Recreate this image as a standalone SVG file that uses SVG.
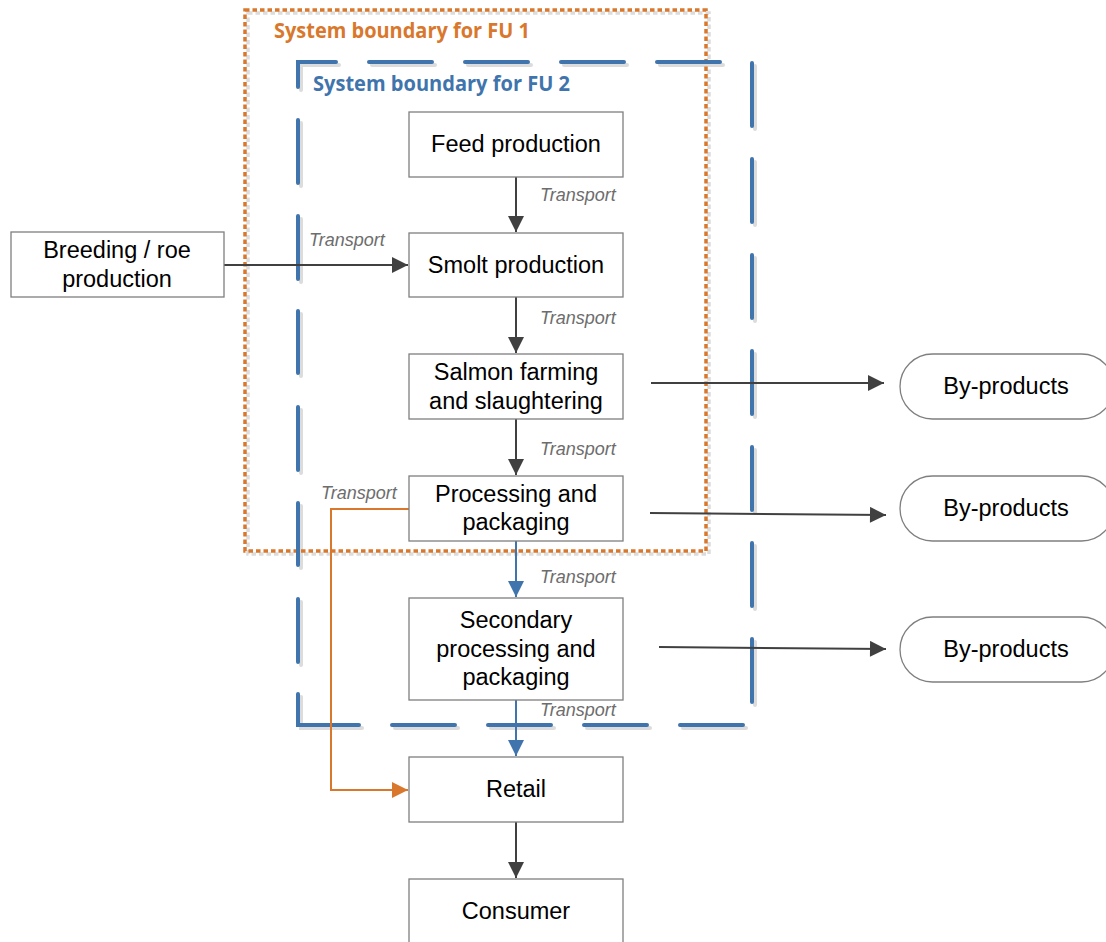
<svg xmlns="http://www.w3.org/2000/svg" xmlns:xlink="http://www.w3.org/1999/xlink" width="1106" height="942" viewBox="0 0 1106 942">
<defs>
<marker id="ah-dark" viewBox="0 0 10 10" refX="10" refY="5" markerWidth="8.5" markerHeight="8" markerUnits="strokeWidth" orient="auto"><path d="M0,0 L10,5 L0,10 z" fill="#404040"/></marker>
<marker id="ah-blue" viewBox="0 0 10 10" refX="10" refY="5" markerWidth="8.5" markerHeight="8" markerUnits="strokeWidth" orient="auto"><path d="M0,0 L10,5 L0,10 z" fill="#3f74ad"/></marker>
<marker id="ah-orange" viewBox="0 0 10 10" refX="10" refY="5" markerWidth="8.5" markerHeight="8" markerUnits="strokeWidth" orient="auto"><path d="M0,0 L10,5 L0,10 z" fill="#d9782d"/></marker>
<path id="fu2" d="M298,87 V62 H336 M369,62 H432 M465,62 H528 M561,62 H624 M657,62 H720
 M752,63 V126 M752,159 V222 M752,255 V318 M752,351 V414 M752,447 V510 M752,543 V606 M752,639 V702
 M743,725 H680 M647,725 H584 M551,725 H488 M455,725 H392 M359,725 H298 V694
 M298,662 V599 M298,565 V503 M298,470 V407 M298,373 V311 M298,279 V216 M298,183 V120"/>
<rect id="fu1" x="245" y="10" width="461" height="541"/>
<style>
.box{fill:#fff;stroke:#7f7f7f;stroke-width:1.3}
.lbl{font-family:"Liberation Sans",Arial,sans-serif;font-size:23.5px;fill:#000;text-anchor:middle}
.tr{font-family:"Liberation Sans",Arial,sans-serif;font-size:18px;font-style:italic;fill:#6d6d6d}
.dk{fill:none;stroke:#404040;stroke-width:2;marker-end:url(#ah-dark)}
.bl{fill:none;stroke:#3f74ad;stroke-width:2;marker-end:url(#ah-blue)}
.or{fill:none;stroke:#d9782d;stroke-width:2;marker-end:url(#ah-orange)}
.ttl{font-family:"Open Sans","Liberation Sans",sans-serif;font-weight:bold;font-size:21px}
.b1{fill:none;stroke-width:3.5;stroke-dasharray:4.5 3}
.b2{fill:none;stroke-width:4;stroke-linecap:round;stroke-linejoin:miter}
</style>
</defs>
<rect width="1106" height="942" fill="#fff"/>

<g id="boundaries">
<use xlink:href="#fu1" class="b1" stroke="#dcdcdc" transform="translate(3,3)"/>
<use xlink:href="#fu2" class="b2" stroke="#dcdcdc" transform="translate(3,3)"/>
<use xlink:href="#fu1" class="b1" stroke="#d9782d"/>
<use xlink:href="#fu2" class="b2" stroke="#3f74ad"/>
<text class="ttl" x="274" y="38" fill="#d9782d" textLength="256" lengthAdjust="spacingAndGlyphs">System boundary for FU 1</text>
<text class="ttl" x="313" y="91" fill="#3f74ad" textLength="257" lengthAdjust="spacingAndGlyphs">System boundary for FU 2</text>
</g>

<g id="connectors">
<line class="dk" x1="516" y1="177" x2="516" y2="232"/>
<line class="dk" x1="224" y1="265" x2="408" y2="265"/>
<line class="dk" x1="516" y1="297" x2="516" y2="353"/>
<line class="dk" x1="516" y1="419" x2="516" y2="475"/>
<line class="bl" x1="516" y1="541" x2="516" y2="597"/>
<line class="bl" x1="516" y1="700" x2="516" y2="756"/>
<line class="dk" x1="516" y1="822" x2="516" y2="878"/>
<polyline class="or" points="409,509 331,509 331,790 408,790"/>
<line class="dk" x1="651" y1="383" x2="884" y2="383"/>
<line class="dk" x1="650" y1="513" x2="886" y2="515"/>
<line class="dk" x1="659" y1="647" x2="886" y2="649"/>
<text class="tr" x="540" y="201">Transport</text>
<text class="tr" x="309" y="246">Transport</text>
<text class="tr" x="540" y="324">Transport</text>
<text class="tr" x="540" y="455">Transport</text>
<text class="tr" x="321" y="499">Transport</text>
<text class="tr" x="540" y="583">Transport</text>
<text class="tr" x="540" y="716">Transport</text>
</g>

<g id="feed"><rect class="box" x="409" y="112" width="214" height="65"/><text class="lbl" x="516" y="152">Feed production</text></g>
<g id="breeding"><rect class="box" x="11" y="232" width="213" height="65"/><text class="lbl" x="117" y="258">Breeding / roe</text><text class="lbl" x="117" y="287">production</text></g>
<g id="smolt"><rect class="box" x="409" y="233" width="214" height="64"/><text class="lbl" x="516" y="273">Smolt production</text></g>
<g id="salmon"><rect class="box" x="409" y="354" width="214" height="65"/><text class="lbl" x="516" y="380">Salmon farming</text><text class="lbl" x="516" y="409">and slaughtering</text></g>
<g id="processing"><rect class="box" x="409" y="476" width="214" height="65"/><text class="lbl" x="516" y="502">Processing and</text><text class="lbl" x="516" y="530">packaging</text></g>
<g id="secondary"><rect class="box" x="409" y="598" width="214" height="102"/><text class="lbl" x="516" y="628">Secondary</text><text class="lbl" x="516" y="657">processing and</text><text class="lbl" x="516" y="685">packaging</text></g>
<g id="retail"><rect class="box" x="409" y="757" width="214" height="65"/><text class="lbl" x="516" y="797">Retail</text></g>
<g id="consumer"><rect class="box" x="409" y="879" width="214" height="70"/><text class="lbl" x="516" y="919">Consumer</text></g>
<g id="byproducts1"><rect class="box" x="900" y="354" width="214" height="65" rx="32.5"/><text class="lbl" x="1006" y="394">By-products</text></g>
<g id="byproducts2"><rect class="box" x="900" y="476" width="214" height="65" rx="32.5"/><text class="lbl" x="1006" y="516">By-products</text></g>
<g id="byproducts3"><rect class="box" x="900" y="617" width="214" height="65" rx="32.5"/><text class="lbl" x="1006" y="657">By-products</text></g>
</svg>
